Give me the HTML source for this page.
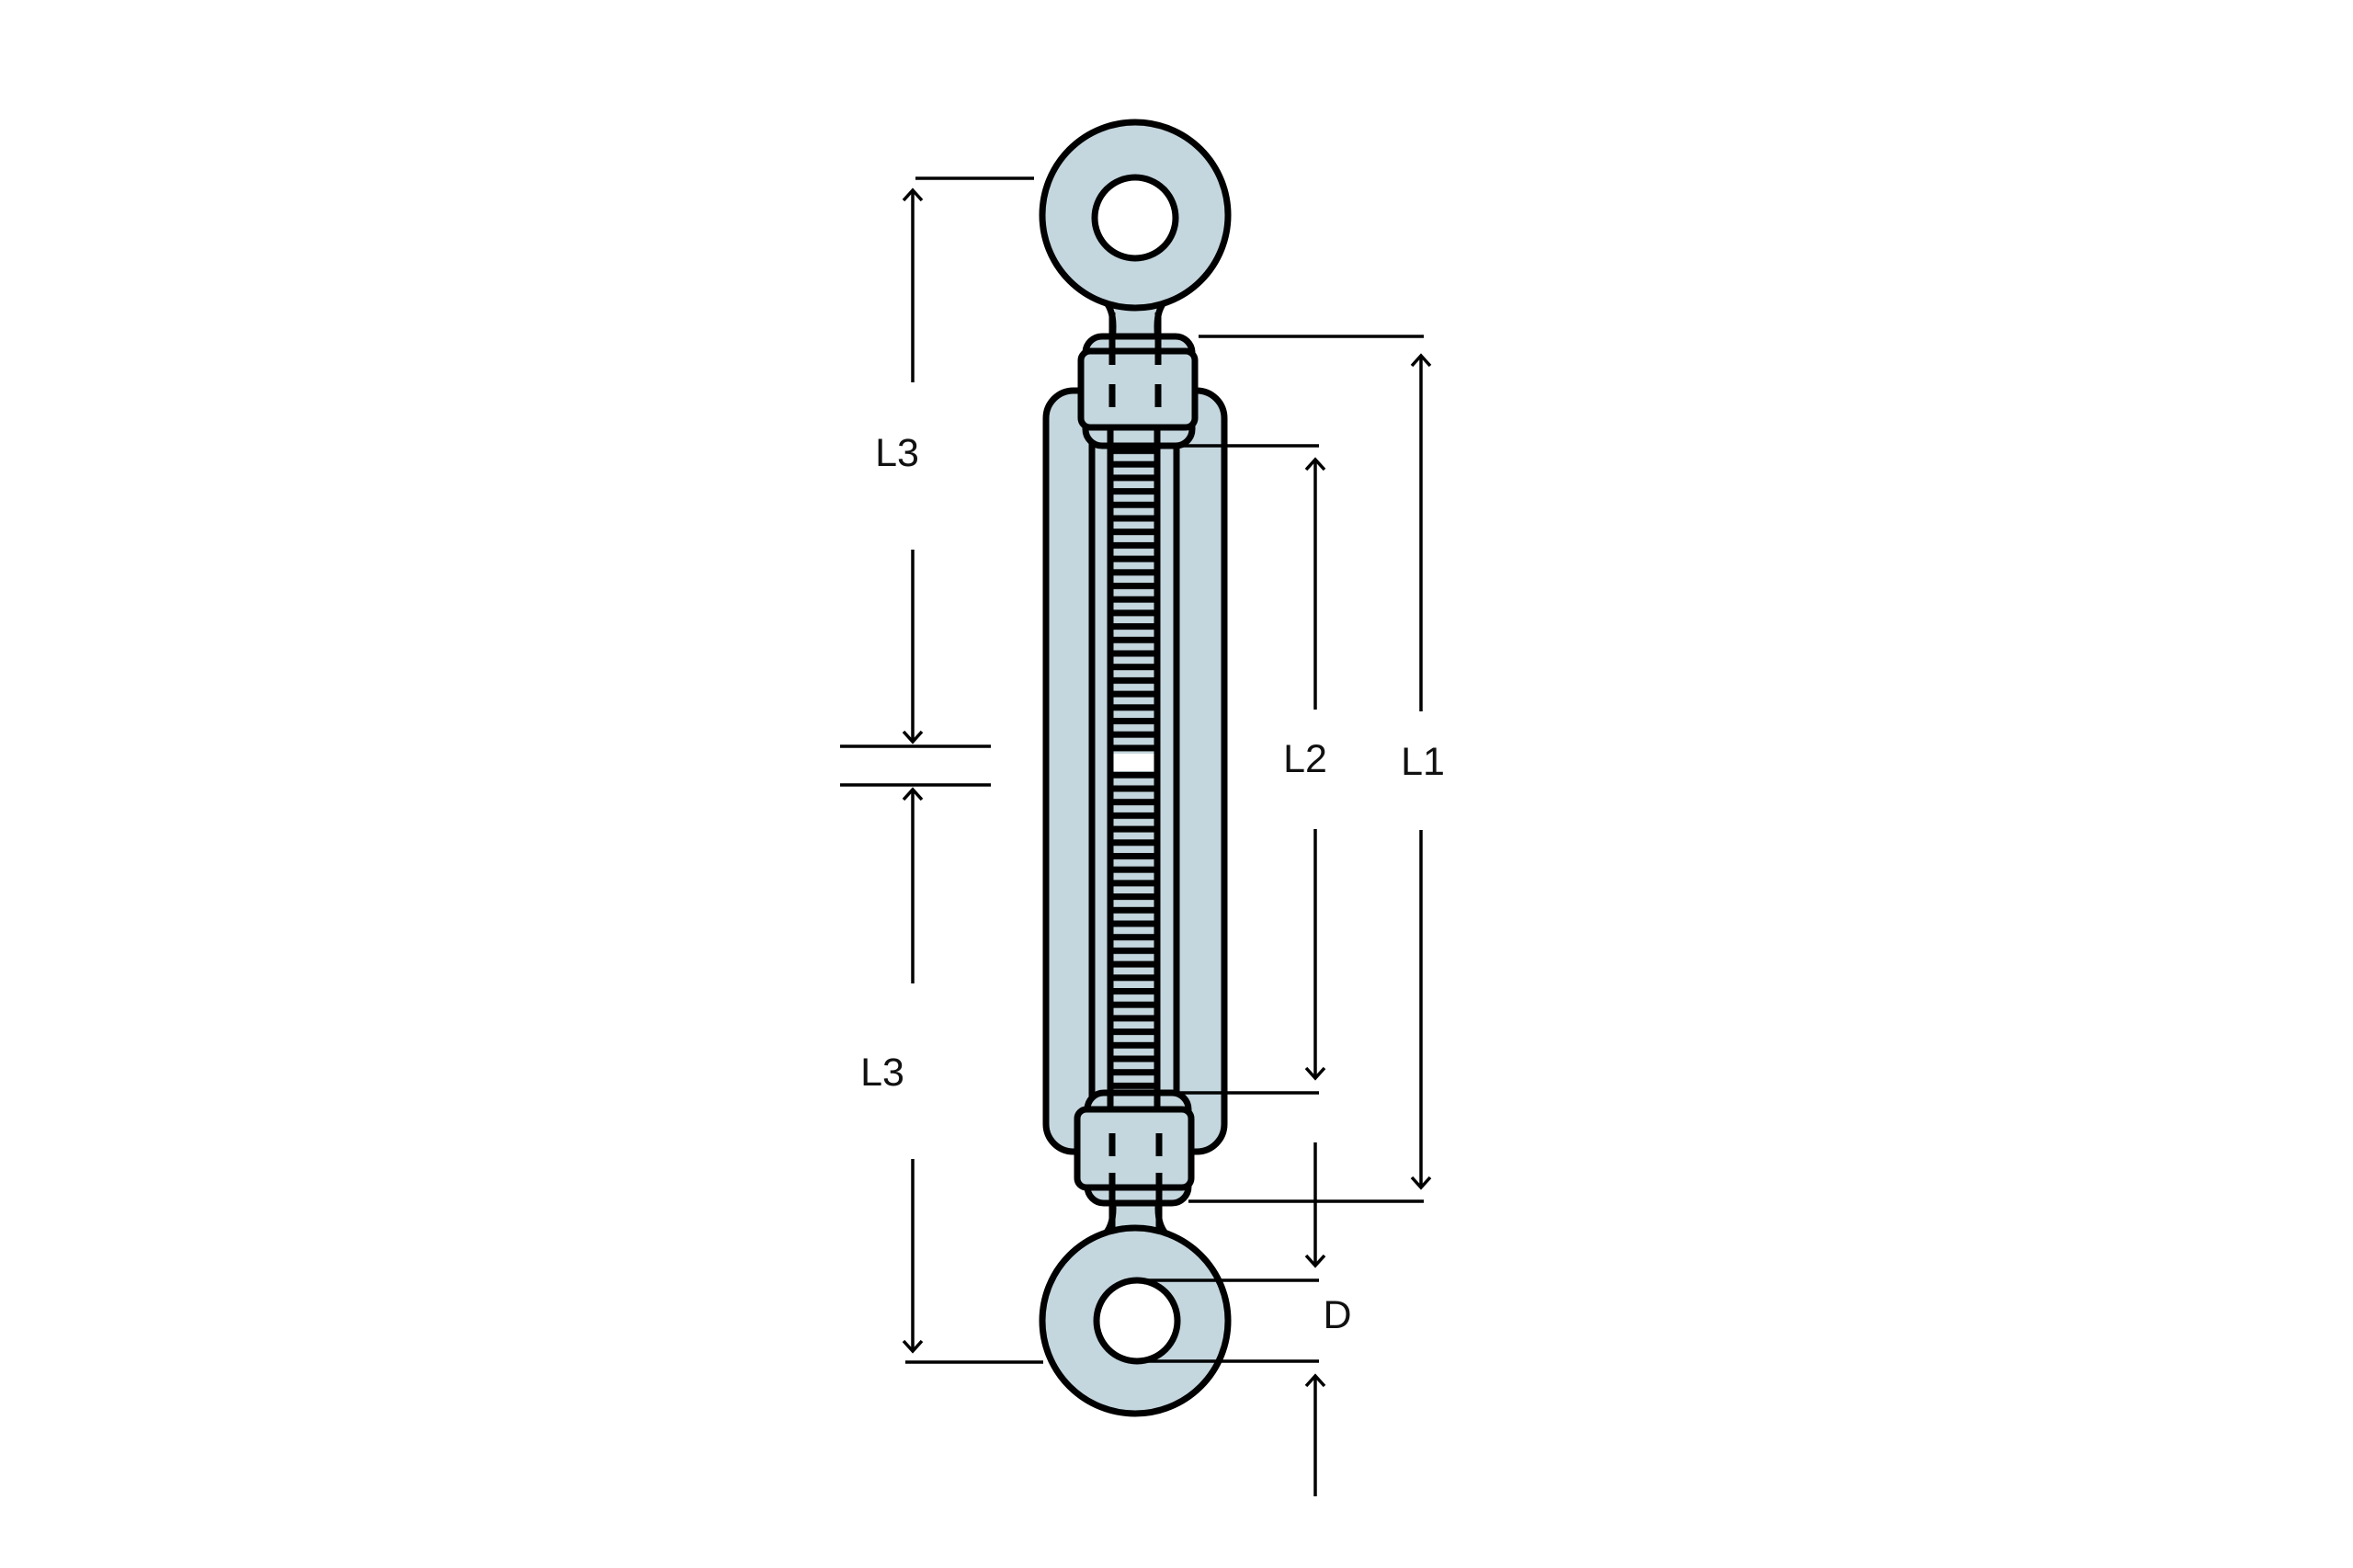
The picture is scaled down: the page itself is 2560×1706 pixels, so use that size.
<!DOCTYPE html>
<html><head><style>
html,body{margin:0;padding:0;background:#fff;}
svg{display:block;}
text{font-family:"Liberation Sans","DejaVu Sans",sans-serif;font-size:43px;fill:#111;}
</style></head><body>
<svg width="2560" height="1706" viewBox="0 0 2560 1706" xmlns="http://www.w3.org/2000/svg">
<defs>
<pattern id="thr" patternUnits="userSpaceOnUse" x="0" y="487" width="60" height="14.7">
<rect x="0" y="0" width="60" height="14.7" fill="#c4d6de"/>
<rect x="0" y="0" width="60" height="7" fill="#000"/>
</pattern>
</defs>
<g stroke="#000" stroke-width="7" fill="#c4d6de">
<rect x="1138" y="425" width="194" height="828" rx="30"/>
<rect x="1188" y="470" width="92" height="730" fill="#c4d6de"/>
<rect x="1208" y="470" width="51" height="730" fill="url(#thr)"/>
<rect x="1211" y="820" width="45" height="19" fill="#fff" stroke="none"/>
<path d="M1200,325 Q1211,335 1211,355 L1210,400 L1260,400 L1259,355 Q1259,335 1270,325 Z"/>
<path d="M1200,1345 Q1211,1335 1211,1315 L1210,1285 L1261,1285 L1260,1315 Q1260,1335 1271,1345 Z"/>
<circle cx="1235" cy="234" r="101"/>
<circle cx="1235" cy="237" r="44" fill="#fff"/>
<circle cx="1235" cy="1437" r="101"/>
<circle cx="1237" cy="1437" r="44" fill="#fff"/>
<rect x="1181" y="366" width="116" height="119" rx="18"/>
<rect x="1176" y="382" width="124" height="83" rx="10"/>
<rect x="1183" y="1189" width="110" height="120" rx="18"/>
<rect x="1172" y="1207" width="124" height="85" rx="10"/>
</g>
<g stroke="#000" stroke-width="7" fill="none">
<line x1="1210" y1="340" x2="1210" y2="397"/><line x1="1260" y1="340" x2="1260" y2="397"/>
<line x1="1210" y1="418" x2="1210" y2="443"/><line x1="1260" y1="418" x2="1260" y2="443"/>
<line x1="1208" y1="465" x2="1208" y2="487"/><line x1="1259" y1="465" x2="1259" y2="487"/>
<line x1="1188" y1="487" x2="1188" y2="1189"/><line x1="1280" y1="487" x2="1280" y2="1189"/>
<line x1="1208" y1="485" x2="1208" y2="1207"/><line x1="1259" y1="485" x2="1259" y2="1207"/>
<line x1="1210" y1="1233" x2="1210" y2="1258"/><line x1="1261" y1="1233" x2="1261" y2="1258"/>
<line x1="1210" y1="1276" x2="1210" y2="1338"/><line x1="1261" y1="1276" x2="1261" y2="1338"/>
</g>
<g stroke="#000" stroke-width="3.5" fill="none">
<line x1="996" y1="194" x2="1125" y2="194"/>
<line x1="985" y1="1482" x2="1135" y2="1482"/>
<line x1="914" y1="812" x2="1078" y2="812"/>
<line x1="914" y1="854" x2="1078" y2="854"/>
<line x1="1304" y1="366" x2="1549" y2="366"/>
<line x1="1283" y1="485" x2="1435" y2="485"/>
<line x1="1283" y1="1189" x2="1435" y2="1189"/>
<line x1="1293" y1="1307" x2="1549" y2="1307"/>
<line x1="1237" y1="1393" x2="1435" y2="1393"/>
<line x1="1237" y1="1481" x2="1435" y2="1481"/>
<line x1="993" y1="207" x2="993" y2="416"/>
<polyline points="983,218 993,207 1003,218"/>
<line x1="993" y1="598" x2="993" y2="807"/>
<polyline points="983,796 993,807 1003,796"/>
<line x1="993" y1="859" x2="993" y2="1070"/>
<polyline points="983,870 993,859 1003,870"/>
<line x1="993" y1="1261" x2="993" y2="1470"/>
<polyline points="983,1459 993,1470 1003,1459"/>
<line x1="1431" y1="500" x2="1431" y2="772"/>
<polyline points="1421,511 1431,500 1441,511"/>
<line x1="1431" y1="902" x2="1431" y2="1173"/>
<polyline points="1421,1162 1431,1173 1441,1162"/>
<line x1="1546" y1="387" x2="1546" y2="774"/>
<polyline points="1536,398 1546,387 1556,398"/>
<line x1="1546" y1="903" x2="1546" y2="1292"/>
<polyline points="1536,1281 1546,1292 1556,1281"/>
<line x1="1431" y1="1243" x2="1431" y2="1377"/>
<polyline points="1421,1366 1431,1377 1441,1366"/>
<line x1="1431" y1="1497" x2="1431" y2="1628"/>
<polyline points="1421,1508 1431,1497 1441,1508"/>
</g>
<text x="976" y="507" text-anchor="middle">L3</text>
<text x="960" y="1181" text-anchor="middle">L3</text>
<text x="1420" y="840" text-anchor="middle">L2</text>
<text x="1548" y="843" text-anchor="middle">L1</text>
<text x="1455" y="1445" text-anchor="middle">D</text>
</svg>
</body></html>
